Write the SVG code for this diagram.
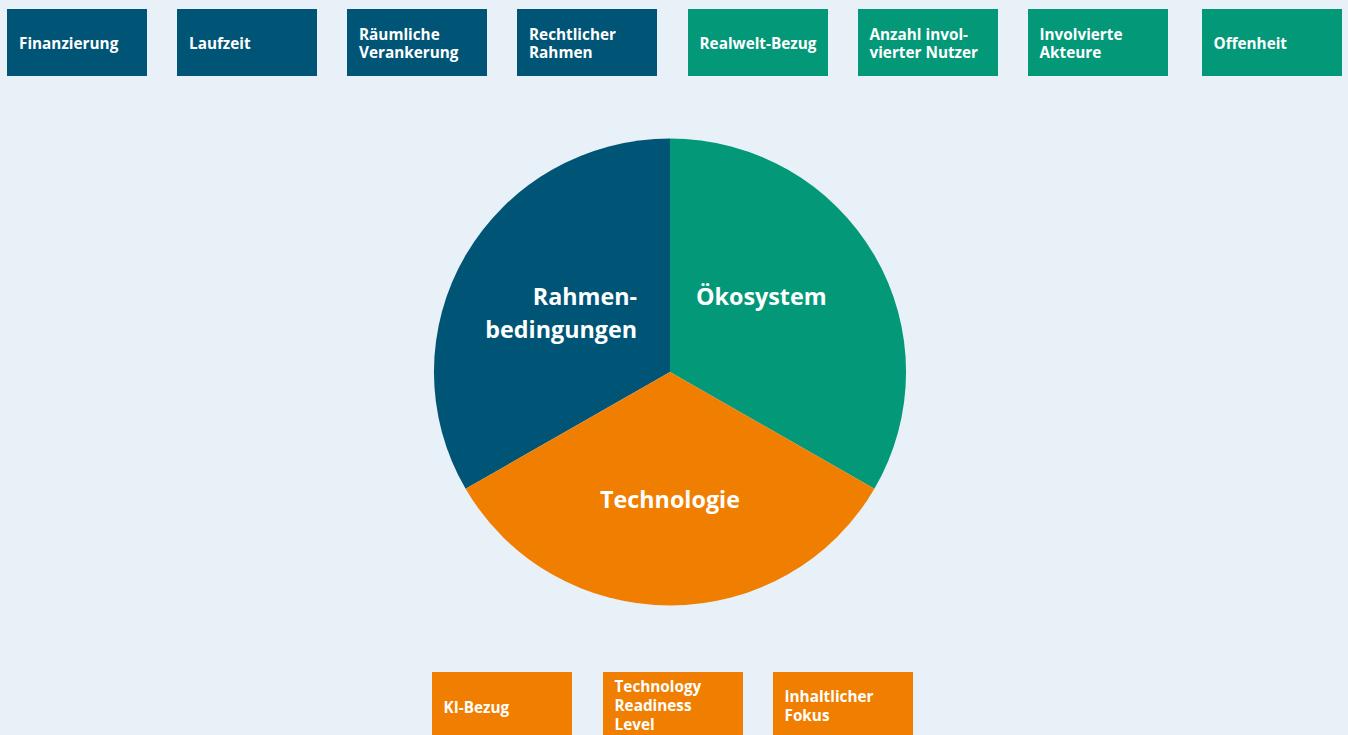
<svg xmlns="http://www.w3.org/2000/svg" width="1348" height="735" viewBox="0 0 1348 735">
<style>
.b{fill:#005577}.g{fill:#039878}.o{fill:#F07E00}
.t{font-family:"Open Sans","Noto Sans",sans-serif;font-weight:700;font-size:15.3px;fill:#FFFFFF}
.p{font-family:"Open Sans","Noto Sans",sans-serif;font-weight:700;font-size:23.3px;fill:#FFFFFF}
</style>
<rect width="1348" height="735" fill="#E8F1F8"/>
<g id="pie">
<path class="b" d="M670,372 L670,138.5 A236,233.5 0 0 0 465.6,488.8 Z"/>
<path class="g" d="M670,372 L670,138.5 A236,233.5 0 0 1 874.4,488.8 Z"/>
<path class="o" d="M670,372 L465.6,488.8 A236,233.5 0 0 0 874.4,488.8 Z"/>
<text class="p" x="637" y="305" text-anchor="end">Rahmen-</text>
<text class="p" x="637" y="337.5" text-anchor="end">bedingungen</text>
<text class="p" x="696" y="305">Ökosystem</text>
<text class="p" x="670" y="507.5" text-anchor="middle">Technologie</text>
</g>
<g id="n1"><rect class="b" x="7" y="9" width="140" height="67"/><text class="t" x="19" y="49">Finanzierung</text></g>
<g id="n2"><rect class="b" x="177" y="9" width="140" height="67"/><text class="t" x="189" y="49">Laufzeit</text></g>
<g id="n3"><rect class="b" x="347" y="9" width="140" height="67"/><text class="t" x="359" y="39.5">Räumliche</text><text class="t" x="359" y="58">Verankerung</text></g>
<g id="n4"><rect class="b" x="517" y="9" width="140" height="67"/><text class="t" x="529" y="39.5">Rechtlicher</text><text class="t" x="529" y="58">Rahmen</text></g>
<g id="n5"><rect class="g" x="688" y="9" width="140" height="67"/><text class="t" x="699.5" y="49">Realwelt-Bezug</text></g>
<g id="n6"><rect class="g" x="858" y="9" width="140" height="67"/><text class="t" x="869.5" y="39.5">Anzahl invol-</text><text class="t" x="869.5" y="58">vierter Nutzer</text></g>
<g id="n7"><rect class="g" x="1028" y="9" width="140" height="67"/><text class="t" x="1039.5" y="39.5">Involvierte</text><text class="t" x="1039.5" y="58">Akteure</text></g>
<g id="n8"><rect class="g" x="1202" y="9" width="140" height="67"/><text class="t" x="1213.5" y="49">Offenheit</text></g>
<g id="n9"><rect class="o" x="432" y="672" width="140" height="67"/><text class="t" x="443.5" y="712.5">KI-Bezug</text></g>
<g id="n10"><rect class="o" x="603" y="672" width="140" height="67"/><text class="t" x="614.5" y="692">Technology</text><text class="t" x="614.5" y="710.5">Readiness</text><text class="t" x="614.5" y="729.5">Level</text></g>
<g id="n11"><rect class="o" x="773" y="672" width="140" height="67"/><text class="t" x="784.5" y="702">Inhaltlicher</text><text class="t" x="784.5" y="721">Fokus</text></g>
<g id="connectors"></g>
</svg>
